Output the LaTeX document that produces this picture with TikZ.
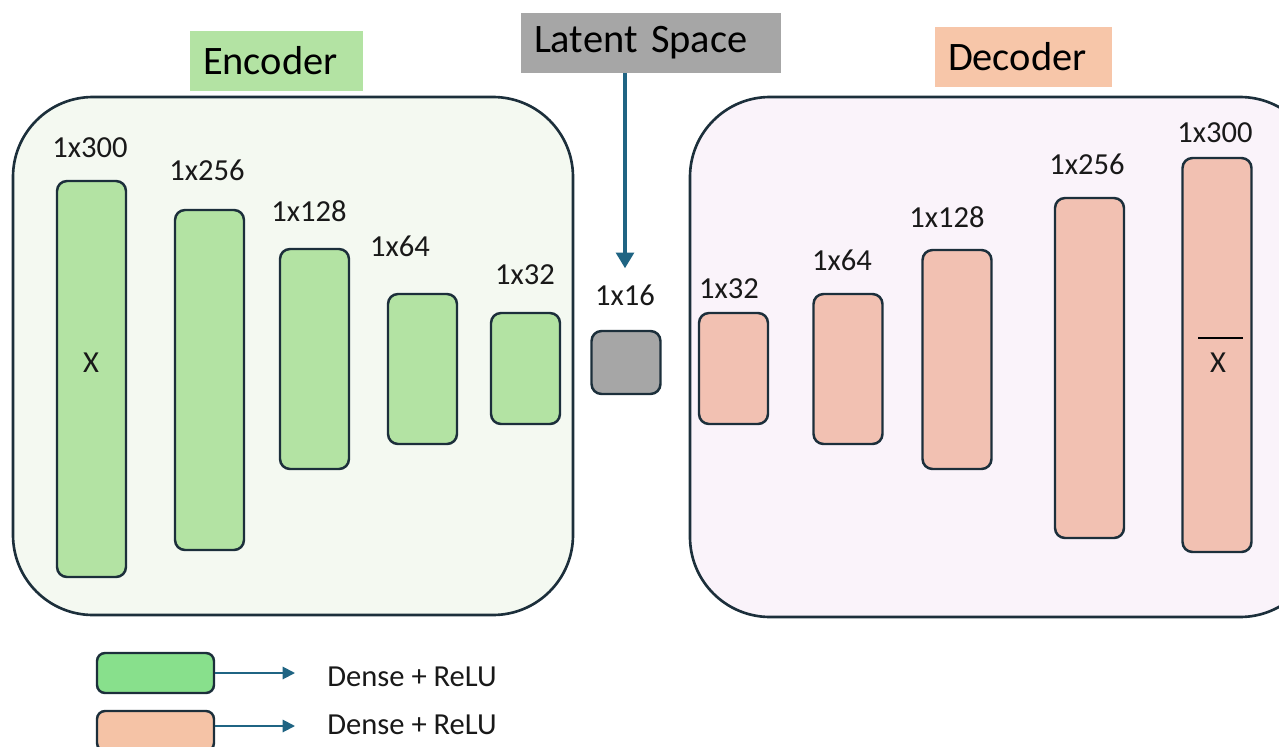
\documentclass[tikz,border=0pt]{standalone}
\usepackage{fontspec}
\setmainfont{Carlito}
\usetikzlibrary{arrows.meta}
\definecolor{edgeblue}{HTML}{1C2F3B}
\definecolor{arrowblue}{HTML}{1F6483}
\definecolor{encfill}{HTML}{B3E3A3}
\definecolor{encpanel}{HTML}{F4F9F1}
\definecolor{decfill}{HTML}{F2C1B2}
\definecolor{decpanel}{HTML}{FAF3FA}
\definecolor{dectitle}{HTML}{F7C6A9}
\definecolor{latfill}{HTML}{A6A6A6}
\definecolor{leggreen}{HTML}{88E08C}
\definecolor{legpeach}{HTML}{F5C3A6}
\tikzset{
	panel/.style={draw=edgeblue, line width=1.5pt, rounded corners=1.6cm},
	bar/.style={draw=edgeblue, line width=1.4pt, rounded corners=0.2cm, minimum width=1.38cm, inner sep=0pt},
	dimlab/.style={font=\fontsize{17.4}{20}\selectfont, text=black!90},
	titlebox/.style={font=\fontsize{23}{28}\selectfont, inner xsep=0.26cm, inner ysep=0pt, minimum height=1.2cm, align=left},
	legarrow/.style={draw=arrowblue, line width=1.1pt, -{Triangle[length=7pt, width=7pt]}, shorten >=0.64cm}
}
\begin{document}
\begin{tikzpicture}[x=0.02cm, y=-0.02cm]
	\useasboundingbox (0, 0) rectangle (1279, 747);
	\clip (0, 0) rectangle (1279, 747);
	% panels
	\filldraw[panel, fill=encpanel] (13, 97) rectangle (573, 615);
	\filldraw[panel, fill=decpanel] (690, 97) rectangle (1320, 617);
	% titles
	\node[titlebox, fill=encfill, text width=2.94cm] (enctitle) at (276.5, 61) {Encoder};
	\node[titlebox, fill=latfill, text width=4.68cm] (lattitle) at (651, 43) {Latent Space};
	\node[titlebox, fill=dectitle, text width=3.02cm] (dectitle) at (1023.5, 57) {Decoder};
	% encoder layers
	\foreach \i/\x/\y/\h/\lx/\ly/\lab in {1/91.5/379/396/90/148/1x300, 2/209.5/380/340/207/170/1x256, 3/314.5/359/220/309/211/1x128, 4/422.5/369/150/400/246/1x64, 5/525.5/368.5/111/525/275/1x32}{
		\node[bar, fill=encfill, minimum height={\h*0.02cm}] (e\i) at (\x, \y) {};
		\node[dimlab] (le\i) at (\lx, \ly) {\lab};
	}
	\node[dimlab] (xin) at (91, 363) {X};
	% latent
	\node[bar, fill=latfill, minimum height=1.26cm] (lat) at (626, 362.5) {};
	\node[dimlab] (llat) at (625, 295) {1x16};
	\draw[arrowblue, line width=2.3pt, -{Triangle[length=9pt, width=10pt]}, shorten >=0.2cm] (llat |- lattitle.south) -- (llat.north);
	% decoder layers
	\foreach \i/\x/\y/\h/\lx/\ly/\lab in {1/733.5/368.5/111/729/289/1x32, 2/848/369/150/842/260/1x64, 3/957/359.5/219/947/217/1x128, 4/1089.5/368/340/1087/164/1x256, 5/1217/355/394/1215/133/1x300}{
		\node[bar, fill=decfill, minimum height={\h*0.02cm}] (d\i) at (\x, \y) {};
		\node[dimlab] (ld\i) at (\lx, \ly) {\lab};
	}
	\node[dimlab] (xout) at (1218, 363) {X};
	\draw[black, line width=1.7pt] (1198, 338) -- (1243, 338);
	% legend
	\node[bar, fill=leggreen, minimum width=2.34cm, minimum height=0.8cm, rounded corners=0.16cm] (leg1) at (155.5, 673) {};
	\node[bar, fill=legpeach, minimum width=2.34cm, minimum height=0.8cm, rounded corners=0.16cm] (leg2) at (155.5, 731) {};
	\node[dimlab, anchor=west, inner sep=0pt] (txt1) at (327, 677) {Dense + ReLU};
	\node[dimlab, anchor=west, inner sep=0pt] (txt2) at (327, 725) {Dense + ReLU};
	\draw[legarrow] (leg1.east) -- (leg1.east -| txt1.west);
	\draw[legarrow] (leg2.east |- 0, 726) -- (txt2.west |- 0, 726);
\end{tikzpicture}
\end{document}
